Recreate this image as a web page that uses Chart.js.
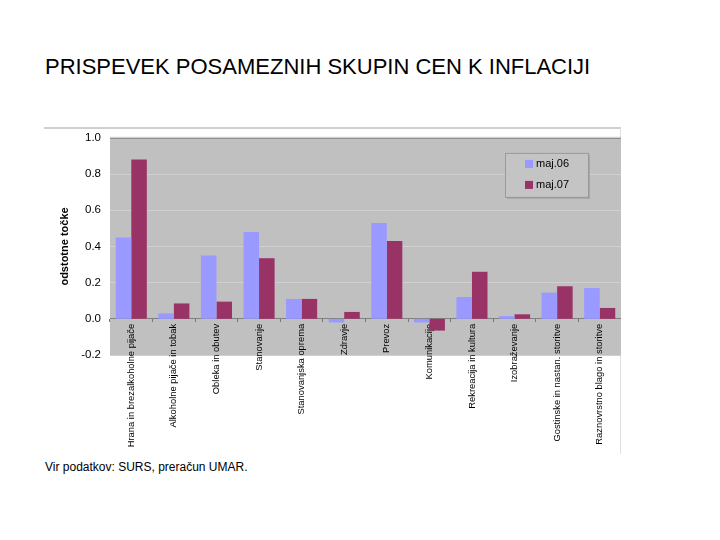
<!DOCTYPE html>
<html>
<head>
<meta charset="utf-8">
<script src="https://cdn.jsdelivr.net/npm/chart.js@4"></script>
<style>
  body { margin: 0; background: #fff; font-family: Arial, "Liberation Sans", sans-serif; }
  #page { position: relative; width: 720px; height: 540px; }
  #title { position: absolute; left: 45px; top: 54px; font-size: 22px; color: #000; white-space: nowrap; }
  #frame { position: absolute; left: 44px; top: 127px; width: 576px; height: 325px;
           border-top: 2px solid #cfcfcf; border-right: 1px solid #e0e0e0; }
  #wrap { position: absolute; left: 44px; top: 122px; width: 577px; height: 330px; }
  #source { position: absolute; left: 45px; top: 460px; font-size: 12px; color: #000; }
</style>
</head>
<body>
<div id="page">
  <div id="title">PRISPEVEK POSAMEZNIH SKUPIN CEN K INFLACIJI</div>
  <div id="frame"></div>
  <div id="wrap"><canvas id="chart"></canvas></div>
  <div id="source">Vir podatkov: SURS, preračun UMAR.</div>
</div>
<script>
// Categories (price groups)
const categories = [
  "Hrana in brezalkoholne pijače",
  "Alkoholne pijače in tobak",
  "Obleka in obutev",
  "Stanovanje",
  "Stanovanjska oprema",
  "Zdravje",
  "Prevoz",
  "Komunikacije",
  "Rekreacija in kultura",
  "Izobraževanje",
  "Gostinske in nastan. storitve",
  "Raznovrstno blago in storitve"
];

// Contributions in percentage points
const maj06 = [0.45, 0.03, 0.35, 0.48, 0.11, -0.02, 0.53, -0.02, 0.12, 0.015, 0.145, 0.17];
const maj07 = [0.88, 0.085, 0.095, 0.335, 0.11, 0.038, 0.43, -0.065, 0.26, 0.025, 0.18, 0.06];

const seriesLabels = ["maj.06", "maj.07"];
const seriesColors = ["#9999ff", "#993366"];

// gray plot background + top border
const plotBackground = {
  id: "plotBackground",
  beforeDraw(chart) {
    const a = chart.chartArea;
    const ctx = chart.ctx;
    ctx.save();
    ctx.fillStyle = "#c0c0c0";
    ctx.fillRect(a.left, a.top, a.right - a.left, a.bottom - a.top);
    ctx.fillStyle = "#8a8a8a";
    ctx.fillRect(a.left, a.top - 1, a.right - a.left, 2);
    ctx.restore();
  }
};

// legend box inside the plot, top right
const boxLegend = {
  id: "boxLegend",
  afterDraw(chart) {
    const ctx = chart.ctx;
    const a = chart.chartArea;
    const x = a.left + 395, y = a.top + 15, w = 83, h = 44;
    ctx.save();
    ctx.fillStyle = "#a8a8a8";
    ctx.fillRect(x + 2, y + 2, w, h);
    ctx.fillStyle = "#c4c4c4";
    ctx.fillRect(x, y, w, h);
    ctx.strokeStyle = "#999";
    ctx.lineWidth = 1;
    ctx.strokeRect(x + 0.5, y + 0.5, w, h);
    ctx.font = "11px Arial, 'Liberation Sans', sans-serif";
    ctx.textBaseline = "middle";
    chart.data.datasets.forEach(function (ds, i) {
      const cy = y + 11 + i * 21;
      ctx.fillStyle = ds.backgroundColor;
      ctx.fillRect(x + 20, cy - 4, 8, 8);
      ctx.fillStyle = "#000";
      ctx.fillText(ds.label, x + 31, cy);
    });
    ctx.restore();
  }
};

const ctx = document.getElementById("chart").getContext("2d");
new Chart(ctx, {
  type: "bar",
  data: {
    labels: categories,
    datasets: [
      { label: seriesLabels[0], data: maj06, backgroundColor: seriesColors[0] },
      { label: seriesLabels[1], data: maj07, backgroundColor: seriesColors[1] }
    ]
  },
  options: {
    responsive: true,
    maintainAspectRatio: false,
    animation: false,
    devicePixelRatio: 1,
    categoryPercentage: 0.73,
    barPercentage: 1.0,
    layout: { padding: { left: 14, right: 0, top: 1, bottom: 97 } },
    scales: {
      x: {
        position: { y: 0 },
        grid: { display: true, drawOnChartArea: false, drawTicks: true, tickLength: 3, color: "#777", offset: true },
        border: { display: true, color: "#808080", width: 1 },
        ticks: {
          autoSkip: false,
          maxRotation: 90,
          minRotation: 90,
          padding: 2,
          color: "#000",
          font: { family: "Arial, 'Liberation Sans', sans-serif", size: 9.4 }
        }
      },
      y: {
        min: -0.2,
        max: 1.0,
        afterFit: function (scale) { scale.width = 52; },
        grid: { color: "#d0d0d0", drawTicks: false },
        border: { display: false },
        ticks: {
          stepSize: 0.2,
          padding: 9,
          color: "#000",
          font: { family: "Arial, 'Liberation Sans', sans-serif", size: 11.5 },
          callback: function (v) { return Math.abs(v) < 1e-9 ? "0.0" : v.toFixed(1); }
        },
        title: {
          display: true,
          text: "odstotne točke",
          color: "#000",
          padding: { top: 0, bottom: 4 },
          font: { family: "Arial, 'Liberation Sans', sans-serif", size: 11, weight: "bold" }
        }
      }
    },
    plugins: {
      legend: { display: false },
      tooltip: { enabled: false }
    }
  },
  plugins: [plotBackground, boxLegend]
});
</script>
</body>
</html>
